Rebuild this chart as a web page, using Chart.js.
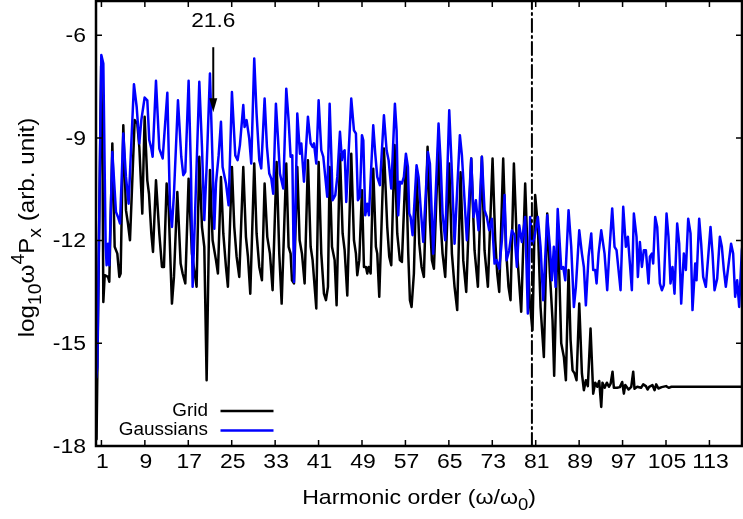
<!DOCTYPE html>
<html><head><meta charset="utf-8">
<script src="https://cdn.jsdelivr.net/npm/chart.js@4.4.1/dist/chart.umd.min.js"></script>
<style>html,body{margin:0;padding:0;background:#fff;overflow:hidden}#wrap{width:743px;height:519px}</style>
</head><body><div id="wrap"><canvas id="c" width="743" height="519"></canvas></div>
<script>
// ---- data (harmonic order, log10 value) ----
const gridH = [0.1,0.55,0.95,1.2,1.35,1.6,2.21,2.45,3.01,3.44,3.93,4.3,4.54,5.03,5.52,5.89,6.26,7.12,7.61,7.98,8.53,8.96,9.45,9.76,10.19,10.5,11.05,11.66,12.15,12.52,13.01,13.38,13.75,13.99,14.36,14.98,15.59,15.96,16.45,17.06,17.67,18.1,18.53,19.03,19.52,19.95,20.38,20.99,21.48,22.1,22.46,23.02,23.45,23.94,24.3,25.04,25.47,25.9,26.39,27.13,27.62,27.99,28.42,29.15,29.58,30.08,30.57,31.06,31.55,32.04,32.53,33.27,33.76,34.2,35.05,35.48,35.85,36.1,36.47,37.08,37.51,37.94,38.43,39.04,39.54,39.9,40.58,41.01,41.5,41.99,42.36,42.73,43.04,43.47,43.96,44.32,44.94,45.43,45.8,46.29,47.02,47.52,47.88,48.13,48.5,48.99,49.36,49.73,49.97,50.22,50.59,51.07,51.56,51.81,52.18,53.04,53.65,54.02,54.39,55.0,55.49,55.98,56.35,57.09,57.52,57.83,58.13,58.56,59.05,59.55,59.97,60.4,61.08,61.51,61.88,62.25,63.04,63.47,63.84,64.33,65.07,65.56,66.05,66.54,67.16,67.65,68.2,69.12,69.73,70.35,71.08,71.57,72.19,73.05,73.54,73.91,74.28,75.01,75.5,75.99,76.36,76.98,77.59,77.96,78.33,79.06,79.55,79.92,80.41,80.9,81.4,81.89,82.5,83.12,83.61,84.1,84.4,85.08,85.7,86.19,86.56,87.05,87.42,87.79,88.16,88.52,89.02,89.51,89.87,90.24,90.6,91.1,91.59,91.96,92.33,92.7,93.07,93.3,93.7,94.1,94.48,94.8,95.15,95.4,96.0,96.5,96.93,97.24,97.5,98.1,98.6,98.96,99.2,99.7,100.4,100.8,101.3,101.6,101.9,102.5,102.9,103.2,103.6,104.2,105.0,105.5,106,119.5];
const gridV = [-17.8,-12.0,-6.9,-9.5,-13.79,-13.01,-13.06,-13.2,-9.16,-12.18,-12.38,-13.06,-12.96,-8.63,-11.11,-11.5,-11.99,-8.48,-8.58,-9.26,-11.21,-8.38,-10.24,-10.63,-11.79,-12.33,-10.24,-11.79,-12.77,-12.77,-10.33,-11.01,-12.77,-13.84,-13.06,-10.58,-12.67,-12.96,-13.25,-10.19,-12.38,-12.86,-13.35,-9.55,-11.6,-12.18,-16.08,-9.94,-11.99,-12.57,-12.96,-10.14,-11.79,-12.77,-13.35,-9.85,-11.6,-12.47,-13.06,-9.85,-11.89,-12.47,-13.55,-9.75,-11.79,-12.77,-13.16,-10.33,-11.89,-12.38,-13.45,-9.7,-12.38,-13.84,-9.75,-12.18,-12.38,-13.16,-13.25,-9.85,-11.99,-12.38,-13.25,-9.65,-12.18,-12.57,-13.98,-9.7,-12.38,-13.55,-13.74,-13.35,-9.85,-12.18,-12.57,-13.89,-9.46,-11.79,-12.28,-13.6,-9.46,-11.99,-12.38,-13.01,-12.57,-10.53,-12.77,-12.77,-12.96,-12.77,-12.96,-9.9,-12.18,-12.38,-13.64,-9.31,-11.6,-12.47,-12.72,-9.21,-11.79,-12.57,-12.62,-9.65,-12.38,-13.74,-13.94,-12.96,-9.94,-12.09,-12.77,-13.06,-9.26,-11.4,-12.57,-12.82,-9.26,-11.4,-12.38,-13.06,-9.75,-12.38,-13.35,-14.03,-10.0,-12.57,-13.5,-9.6,-12.28,-13.35,-9.55,-12.28,-13.35,-9.6,-11.99,-12.96,-13.5,-9.6,-12.18,-13.35,-13.74,-9.75,-12.38,-13.25,-14.08,-10.33,-12.57,-13.84,-14.62,-10.67,-11.6,-13.94,-15.4,-11.21,-12.96,-14.33,-15.95,-11.5,-15.0,-15.4,-16.08,-12.86,-14.9,-15.79,-15.88,-16.08,-13.84,-15.88,-16.37,-16.08,-16.25,-14.57,-16.47,-16.15,-16.27,-16.1,-16.86,-16.15,-16.3,-16.15,-16.27,-16.18,-15.83,-16.3,-16.3,-16.28,-16.13,-16.47,-16.22,-16.35,-16.27,-15.83,-16.33,-16.27,-16.3,-16.2,-16.25,-16.35,-16.27,-16.22,-16.37,-16.2,-16.32,-16.28,-16.25,-16.3,-16.27,-16.27];
const gaussH = [0.05,0.24,0.98,1.35,1.78,1.96,2.21,2.45,3.01,3.68,4.05,4.42,5.03,5.52,6.01,6.99,7.49,7.98,8.35,8.96,9.45,9.82,10.19,10.43,11.05,11.66,12.28,13.14,13.63,13.99,14.36,15.1,15.71,16.08,16.45,17.06,17.49,17.8,18.29,19.03,19.52,19.95,20.38,20.99,21.48,21.79,22.1,22.59,23.02,23.32,23.94,24.43,25.04,25.66,26.09,26.51,27.13,27.37,27.74,28.23,28.6,29.15,29.58,30.08,30.44,31.06,31.49,31.92,32.29,32.65,33.14,33.51,33.88,34.5,35.05,35.48,35.85,36.16,36.47,37.08,37.57,37.82,38.31,39.04,39.54,39.9,40.15,40.58,41.01,41.5,41.87,42.6,43.04,43.34,43.59,44.08,44.45,44.94,45.31,45.55,45.8,46.1,47.02,47.52,47.88,48.25,48.62,48.99,49.24,49.6,49.97,50.28,51.07,51.44,51.81,52.3,53.04,53.53,53.9,54.39,55.06,55.37,55.68,55.98,56.35,56.72,57.09,57.46,57.7,57.95,58.32,59.05,59.42,59.79,60.28,61.14,61.51,62.12,63.1,63.47,63.84,64.33,65.07,65.44,66.05,67.03,67.4,68.32,69.12,69.55,69.98,70.47,71.08,71.57,72.0,72.43,72.92,73.42,73.78,74.28,74.77,75.26,75.63,76.12,76.61,77.1,77.53,77.96,78.45,79.06,79.55,79.98,80.41,80.78,81.4,81.89,82.38,83.12,83.61,83.97,84.34,84.66,85.05,85.7,86.07,86.44,87.05,87.54,88.03,88.4,89.02,89.51,89.87,90.24,90.73,91.23,91.59,91.96,92.21,92.58,93.07,93.68,94.17,94.54,95.09,95.52,95.89,96.63,97.12,97.61,97.98,98.35,98.71,99.08,99.57,99.82,100.19,100.56,100.92,101.29,101.78,102.03,102.39,102.64,103.01,103.38,103.87,104.24,104.6,105.1,105.46,105.83,106.2,106.57,107.06,107.43,107.8,108.29,108.66,109.09,109.52,109.88,110.38,110.62,111.11,111.48,111.85,112.34,113.2,113.57,113.94,114.43,114.92,115.29,115.66,116.02,116.99,117.37,117.74,118.11,118.48,118.97,119.3];
const gaussV = [-16.0,-15.69,-6.58,-6.83,-12.18,-12.72,-12.09,-12.72,-9.41,-11.16,-11.31,-11.5,-8.87,-10.14,-10.92,-7.43,-8.09,-9.16,-8.48,-7.82,-7.9,-9.07,-9.31,-9.55,-7.33,-9.31,-9.6,-7.68,-11.01,-11.6,-10.63,-7.9,-9.55,-10.09,-9.99,-7.33,-9.94,-13.35,-11.01,-7.36,-9.26,-11.4,-9.85,-7.12,-9.75,-11.65,-10.33,-9.51,-8.53,-9.85,-10.33,-10.97,-7.66,-9.51,-9.65,-9.21,-8.04,-8.68,-8.48,-9.02,-9.75,-6.68,-8.29,-9.65,-9.89,-7.85,-9.26,-10.04,-10.19,-10.63,-8.0,-8.97,-10.04,-10.48,-7.56,-8.48,-9.55,-9.51,-13.21,-8.29,-9.46,-9.16,-10.28,-8.38,-9.16,-9.26,-9.16,-9.75,-7.9,-9.36,-9.55,-10.72,-8.0,-9.46,-10.82,-10.67,-10.14,-8.82,-9.65,-9.41,-9.36,-10.87,-7.85,-8.78,-8.87,-10.82,-10.72,-8.92,-9.07,-11.26,-10.92,-11.26,-8.63,-9.46,-10.14,-10.38,-8.34,-9.36,-9.65,-10.48,-8.0,-8.78,-11.26,-10.28,-10.33,-10.14,-9.46,-9.85,-11.21,-11.31,-11.84,-9.8,-10.14,-11.01,-12.04,-9.41,-9.75,-12.38,-8.58,-9.65,-11.21,-11.99,-8.19,-9.55,-12.09,-8.92,-9.5,-11.99,-9.6,-11.31,-10.82,-11.7,-9.55,-11.11,-11.31,-11.7,-11.36,-12.67,-12.57,-12.82,-11.99,-10.67,-12.57,-12.28,-11.7,-11.84,-12.77,-11.55,-12.04,-11.31,-14.13,-11.31,-12.09,-11.89,-11.31,-12.18,-13.74,-11.26,-12.18,-13.16,-12.18,-13.35,-11.08,-12.82,-12.77,-13.16,-11.11,-12.18,-13.94,-13.35,-11.7,-12.38,-12.77,-13.89,-12.47,-11.79,-12.86,-12.86,-13.25,-12.38,-11.7,-12.38,-13.45,-12.38,-11.06,-12.18,-12.28,-13.45,-11.01,-12.18,-11.89,-12.67,-13.45,-11.21,-11.89,-13.06,-12.04,-12.77,-12.28,-12.28,-13.25,-12.47,-12.38,-12.67,-11.31,-11.6,-13.25,-13.45,-13.3,-11.21,-11.89,-13.25,-12.77,-13.55,-11.5,-12.09,-13.84,-12.38,-12.86,-11.36,-11.79,-14.03,-12.67,-13.16,-11.36,-12.09,-13.06,-13.35,-11.6,-12.38,-13.45,-13.11,-11.89,-12.18,-12.86,-13.35,-12.09,-12.38,-13.64,-13.16,-13.94,-12.28,-11.9];
const xTicks = [1,9,17,25,33,41,49,57,65,73,81,89,97,105,113];
const yTicks = [-18,-15,-12,-9,-6];
const cutoffH = 80.3;
const markH = 21.6, markLabel = '21.6';
const seriesNames = ['Grid','Gaussians'];
const seriesColors = ['#000000','#0000ff'];

const FONT = '"Liberation Sans", Arial, Helvetica, sans-serif';
function fnt(s){return s+'px '+FONT;}
function drawStretched(ctx,s,x,y,size,sx,align){
  ctx.font=fnt(size);
  const w=ctx.measureText(s).width*sx;
  let x0=x; if(align==='right')x0=x-w; else if(align==='center')x0=x-w/2;
  ctx.save();ctx.translate(x0,y);ctx.scale(sx,1);ctx.textAlign='left';ctx.fillText(s,0,0);ctx.restore();
}
function richWidth(ctx,parts,size){let w=0;parts.forEach(p=>{ctx.font=fnt(p[1]==='n'?size:size*0.8);w+=ctx.measureText(p[0]).width;});return w;}
function drawRich(ctx,parts,size){let xx=0;parts.forEach(p=>{const s=p[1]==='n'?size:size*0.8;ctx.font=fnt(s);const dy=p[1]==='sub'?size*0.3:(p[1]==='sup'?-size*0.45:0);ctx.fillText(p[0],xx,dy);xx+=ctx.measureText(p[0]).width;});}
const xTitle=[['Harmonic order (ω/ω','n'],['0','sub'],[')','n']];
const yTitle=[['log','n'],['10','sub'],['ω','n'],['4','sup'],['P','n'],['x','sub'],[' (arb. unit)','n']];

const decor={id:'decor',afterDraw(chart){
  const {ctx,chartArea:a,scales:{x,y}}=chart;
  ctx.save();ctx.strokeStyle='#000';ctx.fillStyle='#000';
  ctx.lineWidth=1.5;ctx.beginPath();
  xTicks.forEach(v=>{const p=x.getPixelForValue(v);ctx.moveTo(p,a.bottom);ctx.lineTo(p,a.bottom-6);ctx.moveTo(p,a.top);ctx.lineTo(p,a.top+6);});
  yTicks.forEach(v=>{const p=y.getPixelForValue(v);ctx.moveTo(a.left,p);ctx.lineTo(a.left+6,p);ctx.moveTo(a.right,p);ctx.lineTo(a.right-6,p);});
  ctx.stroke();
  ctx.lineWidth=2.5;ctx.strokeRect(a.left,a.top,a.right-a.left,a.bottom-a.top);
  ctx.textBaseline='middle';
  yTicks.forEach(v=>drawStretched(ctx,String(v),a.left-10,y.getPixelForValue(v)+1,20.5,1.12,'right'));
  xTicks.forEach(v=>drawStretched(ctx,String(v),x.getPixelForValue(v)+1,a.bottom+16,20.5,1.12,'center'));
  // annotation
  const mx=x.getPixelForValue(markH);
  drawStretched(ctx,markLabel,mx,y.getPixelForValue(-5.58),21,1.08,'center');
  const y1=y.getPixelForValue(-6.35),y2=y.getPixelForValue(-8.25);
  ctx.lineWidth=2;ctx.beginPath();ctx.moveTo(mx,y1);ctx.lineTo(mx,y2-8);ctx.stroke();
  ctx.beginPath();ctx.moveTo(mx,y2);ctx.lineTo(mx-4,y2-14);ctx.lineTo(mx+4,y2-14);ctx.closePath();ctx.fill();
  // legend
  chart.data.datasets.forEach((d,i)=>{if(!d.inLegend)return;const ly=a.bottom-35+i*19.5;
    drawStretched(ctx,d.label,208,ly,18,1.05,'right');
    ctx.strokeStyle=d.borderColor;ctx.lineWidth=2.5;ctx.beginPath();ctx.moveTo(220.5,ly);ctx.lineTo(273.5,ly);ctx.stroke();});
  // titles
  ctx.fillStyle='#000';ctx.textBaseline='alphabetic';ctx.textAlign='left';
  let sx=1.1,sz=21,w=richWidth(ctx,xTitle,sz)*sx;
  ctx.save();ctx.translate((a.left+a.right)/2-w/2,504);ctx.scale(sx,1);drawRich(ctx,xTitle,sz);ctx.restore();
  sz=22;w=richWidth(ctx,yTitle,sz)*sx;
  ctx.save();ctx.translate(34,(a.top+a.bottom)/2+4);ctx.rotate(-Math.PI/2);ctx.translate(-w/2,0);ctx.scale(sx,1);drawRich(ctx,yTitle,sz);ctx.restore();
  ctx.restore();
}};

const pts=(hs,vs)=>hs.map((h,i)=>({x:h,y:vs[i]}));
new Chart(document.getElementById('c'),{
  type:'line',
  data:{datasets:[
    {label:seriesNames[0],inLegend:true,data:pts(gridH,gridV),borderColor:seriesColors[0],borderWidth:2.5,pointRadius:0,tension:0,fill:false,order:2},
    {label:seriesNames[1],inLegend:true,data:pts(gaussH,gaussV),borderColor:seriesColors[1],borderWidth:2.5,pointRadius:0,tension:0,fill:false,order:1},
    {label:'cutoff',data:[{x:cutoffH,y:-18},{x:cutoffH,y:-5}],borderColor:'#000',borderWidth:2,borderDash:[13,4,2,4],pointRadius:0,fill:false,order:0}
  ]},
  options:{responsive:false,animation:false,devicePixelRatio:1,
    layout:{padding:{left:96,right:1,top:1,bottom:73}},
    scales:{x:{type:'linear',min:0,max:119,display:false},y:{type:'linear',min:-18,max:-5,display:false}},
    plugins:{legend:{display:false},tooltip:{enabled:false}},
    elements:{line:{borderJoinStyle:'round',borderCapStyle:'round'}}
  },
  plugins:[decor]
});
</script></body></html>
